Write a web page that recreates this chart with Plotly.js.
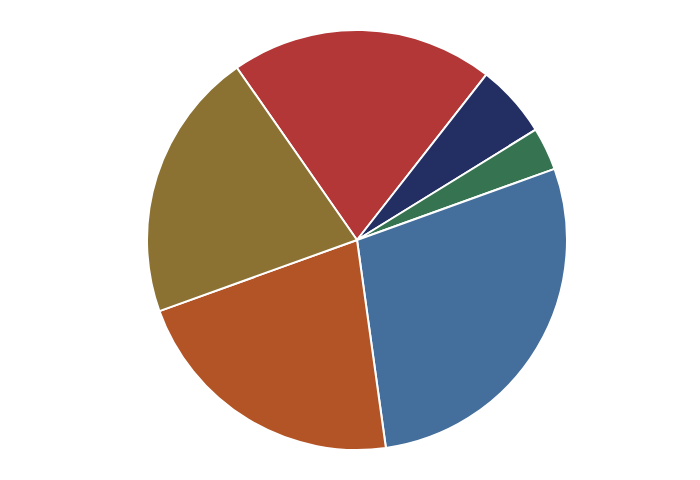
<!DOCTYPE html>
<html>
<head>
<meta charset="utf-8">
<script src="https://cdn.plot.ly/plotly-3.0.1.min.js"></script>
<style>
  html, body { margin: 0; padding: 0; background: #fff; }
  #plot { width: 700px; height: 480px; }
</style>
</head>
<body>
<div id="plot"></div>
<script>
// slice shares, read clockwise starting from the top-left red slice
const labels = ['A', 'B', 'C', 'D', 'E', 'F'];
const values = [20.25, 5.64, 3.3, 28.3, 21.7, 20.8];
const colors = ['#b33737', '#232e62', '#367451', '#446e9b', '#b25425', '#8b7233'];

const trace = {
  type: 'pie',
  labels: labels,
  values: values,
  sort: false,
  direction: 'clockwise',
  rotation: -34.9,
  textinfo: 'none',
  hoverinfo: 'label+percent',
  marker: {
    colors: colors,
    line: { color: '#ffffff', width: 2 }
  }
};

const layout = {
  showlegend: false,
  margin: { t: 30, b: 30, l: 94, r: 80 },
  paper_bgcolor: '#ffffff',
  plot_bgcolor: '#ffffff'
};

Plotly.newPlot('plot', [trace], layout, { displayModeBar: false, staticPlot: true });
</script>
</body>
</html>
